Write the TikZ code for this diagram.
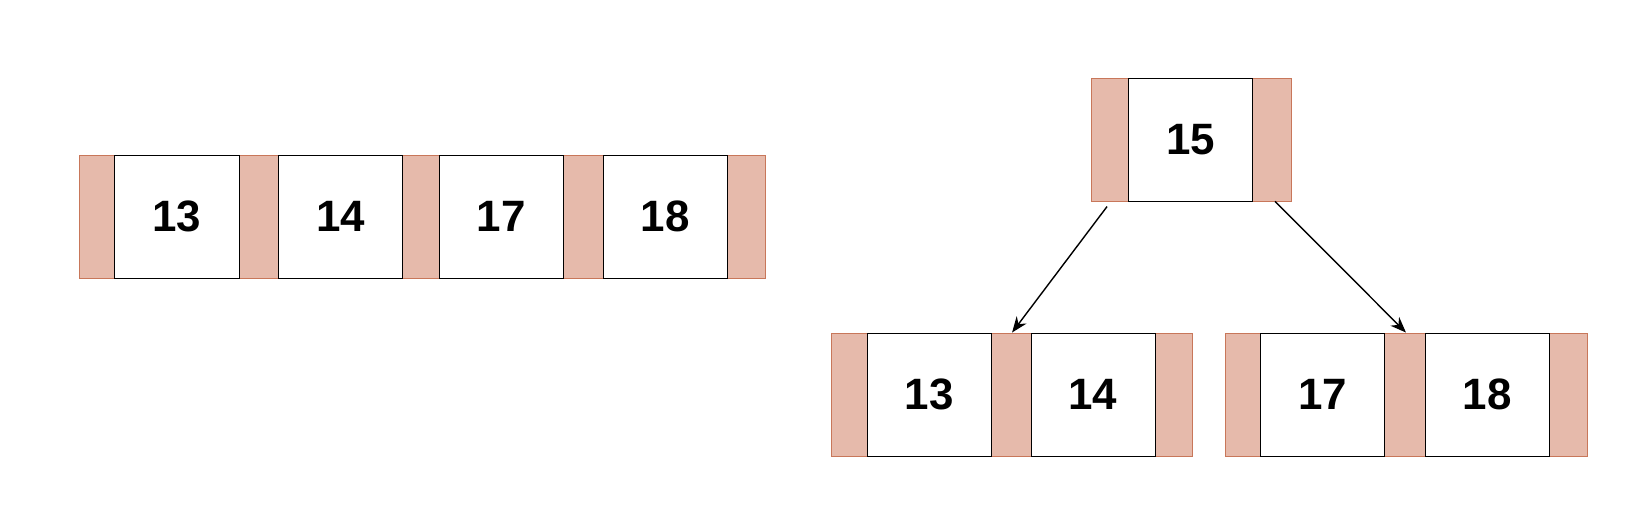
\documentclass[tikz,border=0pt]{standalone}
\usepackage{fontspec}
\setmainfont{Liberation Sans}
\usetikzlibrary{arrows.meta}
\definecolor{ptrfill}{HTML}{E6BAAB}
\definecolor{ptrdraw}{HTML}{C8775A}
\tikzset{
    ptr/.style={draw=ptrdraw, fill=ptrfill, minimum height=2.462cm, inner sep=0pt},
    key/.style={draw=black, fill=white, minimum width=2.483cm, minimum height=2.462cm, inner sep=0pt, font=\fontsize{25}{25}\selectfont\bfseries},
    link/.style={-{Stealth[length=9pt,width=7pt]}, thick}
}
\begin{document}
\begin{tikzpicture}[x=0.020867cm, y=-0.020867cm]
    \useasboundingbox (0,0) rectangle (1568,498.4);
    % Flat node
    \node[ptr, minimum width=13.73cm] (flat) at (405,207.5) {};
    \node[key] (a1) at (169.5,207.5) {13};
    \node[key] (a2) at (326.5,207.5) {14};
    \node[key] (a3) at (480.5,207.5) {17};
    \node[key] (a4) at (637.5,207.5) {18};
    % Root
    \node[ptr, minimum width=4.007cm] (root) at (1142,134) {};
    \node[key] (r1) at (1141,134) {15};
    % Left child
    \node[ptr, minimum width=7.22cm] (left) at (970,378) {};
    \node[key] (l1) at (890.5,378) {13};
    \node[key] (l2) at (1047.5,378) {14};
    % Right child
    \node[ptr, minimum width=7.24cm] (right) at (1347.5,378) {};
    \node[key] (q1) at (1267.5,378) {17};
    \node[key] (q2) at (1425.5,378) {18};
    % Links
    \coordinate (rl) at (1061,198);
    \coordinate (rr) at (1222,193);
    \draw[link] (rl) -- (left.north);
    \draw[link] (rr) -- (right.north);
\end{tikzpicture}
\end{document}
